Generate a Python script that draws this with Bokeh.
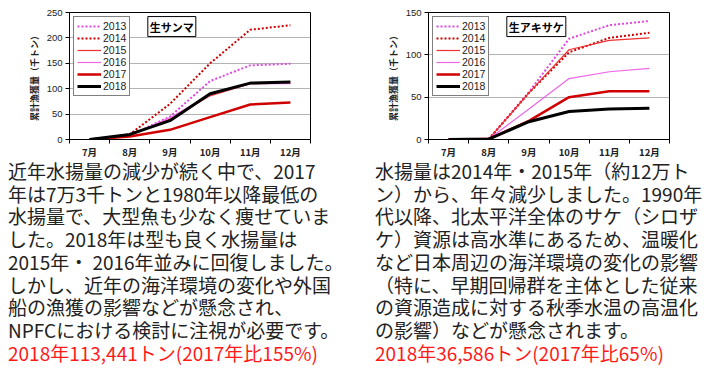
from bokeh.plotting import figure
from bokeh.models import FixedTicker, Legend, LegendItem, Label, Div
from bokeh.layouts import row, column
from bokeh.embed import file_html
from bokeh.resources import INLINE
import numpy as np

months = ["7月", "8月", "9月", "10月", "11月", "12月"]
years = ["2013", "2014", "2015", "2016", "2017", "2018"]

# 生サンマ cumulative landings (thousand t)
saury = {
    "2013": [0, 8, 45, 115, 146, 149],
    "2014": [0, 10, 70, 150, 216, 225],
    "2015": [0, 8, 40, 86, 110, 111],
    "2016": [0, 8, 43, 88, 110, 110],
    "2017": [0, 6, 19, 44, 69, 73],
    "2018": [0, 10, 37, 90, 111, 113],
}
# 生アキサケ cumulative landings (thousand t)
salmon = {
    "2013": [0, 0.5, 56, 119, 135, 140],
    "2014": [0, 0.5, 55, 103, 120, 126],
    "2015": [0, 0.5, 55, 106, 117, 120],
    "2016": [0, 0.5, 36, 72, 80, 84],
    "2017": [0, 0.5, 22, 50, 57, 57],
    "2018": [0, 0.5, 21, 33, 36, 37],
}
saury_yticks = [0, 50, 100, 150, 200, 250]
salmon_yticks = [0, 50, 100, 150]

y_title = "累計漁獲量（千トン）"

styles = {
    "2013": dict(line_color="#E048E0", line_width=2, line_dash="2 2"),
    "2014": dict(line_color="#CC0000", line_width=2, line_dash="2 2"),
    "2015": dict(line_color="#EE3030", line_width=1.2),
    "2016": dict(line_color="#EE66E6", line_width=1.2),
    "2017": dict(line_color="#D00000", line_width=2.5),
    "2018": dict(line_color="#000000", line_width=3),
}

saury_text = [
    "近年水揚量の減少が続く中で、2017",
    "年は7万3千トンと1980年以降最低の",
    "水揚量で、大型魚も少なく痩せていま",
    "した。2018年は型も良く水揚量は",
    "2015年・ 2016年並みに回復しました。",
    "しかし、近年の海洋環境の変化や外国",
    "船の漁獲の影響などが懸念され、",
    "NPFCにおける検討に注視が必要です。",
]
saury_red = "2018年113,441トン(2017年比155%)"

salmon_text = [
    "水揚量は2014年・2015年（約12万ト",
    "ン）から、年々減少しました。1990年",
    "代以降、北太平洋全体のサケ（シロザ",
    "ケ）資源は高水準にあるため、温暖化",
    "など日本周辺の海洋環境の変化の影響",
    "（特に、早期回帰群を主体とした従来",
    "の資源造成に対する秋季水温の高温化",
    "の影響）などが懸念されます。",
]
salmon_red = "2018年36,586トン(2017年比65%)"

JP = "Noto Sans CJK JP"
LAT = "Liberation Sans"


def make_chart(data, yticks, title, width, left):
    xs = list(np.arange(len(months)) + 0.5)
    ymax = yticks[-1]
    p = figure(width=width, height=156, output_backend="svg", toolbar_location=None,
               x_range=(0, len(months)), y_range=(0, ymax),
               min_border_left=left, min_border_right=width - left - 241,
               min_border_top=4, min_border_bottom=25)
    p.outline_line_color = "black"
    p.outline_line_width = 1
    p.background_fill_color = "white"
    p.border_fill_color = "white"

    # x axis: labels at category centres, ticks at category boundaries
    p.xaxis.ticker = FixedTicker(ticks=xs, minor_ticks=list(range(len(months) + 1)))
    p.xaxis.major_label_overrides = {float(x): m for x, m in zip(xs, months)}
    p.xaxis.major_tick_out = 0
    p.xaxis.major_tick_in = 0
    p.xaxis.minor_tick_out = 4
    p.xaxis.minor_tick_in = 0
    p.xaxis.major_label_standoff = 1
    p.xaxis.major_label_text_font = JP
    p.xaxis.major_label_text_font_size = "9.5px"
    p.xaxis.major_label_text_font_style = "bold"
    p.xaxis.major_label_text_color = "#222"
    p.xgrid.visible = False

    p.yaxis.ticker = FixedTicker(ticks=yticks)
    p.yaxis.major_tick_out = 4
    p.yaxis.major_tick_in = 0
    p.yaxis.minor_tick_out = 0
    p.yaxis.minor_tick_in = 0
    p.yaxis.major_label_standoff = 3
    p.yaxis.major_label_text_font = LAT
    p.yaxis.major_label_text_font_size = "9.5px"
    p.yaxis.major_label_text_color = "#222"
    p.yaxis.axis_label = y_title
    p.yaxis.axis_label_text_font = JP
    p.yaxis.axis_label_text_font_size = "9px"
    p.yaxis.axis_label_text_font_style = "bold"
    p.yaxis.axis_label_standoff = 3
    p.yaxis.axis_label_text_color = "#222"
    p.ygrid.grid_line_color = "#666666"
    p.ygrid.grid_line_dash = "1 1"
    p.ygrid.grid_line_width = 1

    for ax in (p.xaxis[0], p.yaxis[0]):
        ax.axis_line_color = "black"
        ax.major_tick_line_color = "black"
        ax.minor_tick_line_color = "black"

    items = []
    for y in years:
        r = p.line(xs, data[y], line_join="round", **styles[y])
        items.append(LegendItem(label=y, renderers=[r]))
    legend = Legend(items=items, location="top_left", margin=4, padding=3,
                    spacing=0, label_height=12, glyph_height=12, glyph_width=24,
                    label_standoff=2, label_text_font=LAT, label_text_font_size="10.5px",
                    label_text_color="#222", border_line_color="black",
                    border_line_width=1, background_fill_color="white",
                    background_fill_alpha=1)
    p.add_layout(legend)

    lab = Label(x=1.95, y=ymax * 0.968, x_units="data", y_units="data", text=title,
                anchor="top_left", text_font=JP, text_font_size="11px",
                text_font_style="bold", text_color="black",
                background_fill_color="white", border_line_color="black",
                border_line_width=1, padding=2)
    p.add_layout(lab)
    return p


def make_div(lines, red, width, left_margin):
    body = "<br>".join(lines)
    html = (f"<div style=\"font-family:'{JP}';font-size:19px;line-height:22.7px;"
            f"color:#222;white-space:nowrap;\">{body}<br>"
            f"<span style=\"color:#ff1a1a;\">{red}</span></div>")
    return Div(text=html, width=width, margin=(-4, 0, 0, left_margin))


p1 = make_chart(saury, saury_yticks, "生サンマ", 352, 61)
p2 = make_chart(salmon, salmon_yticks, "生アキサケ", 350, 68)
d1 = make_div(saury_text, saury_red, 352, 0)
d2 = make_div(salmon_text, salmon_red, 335, 15)

layout = row(column(p1, d1), column(p2, d2), margin=(8, 0, 0, 8))

with open("out.html", "w") as f:
    f.write(file_html(layout, INLINE))
